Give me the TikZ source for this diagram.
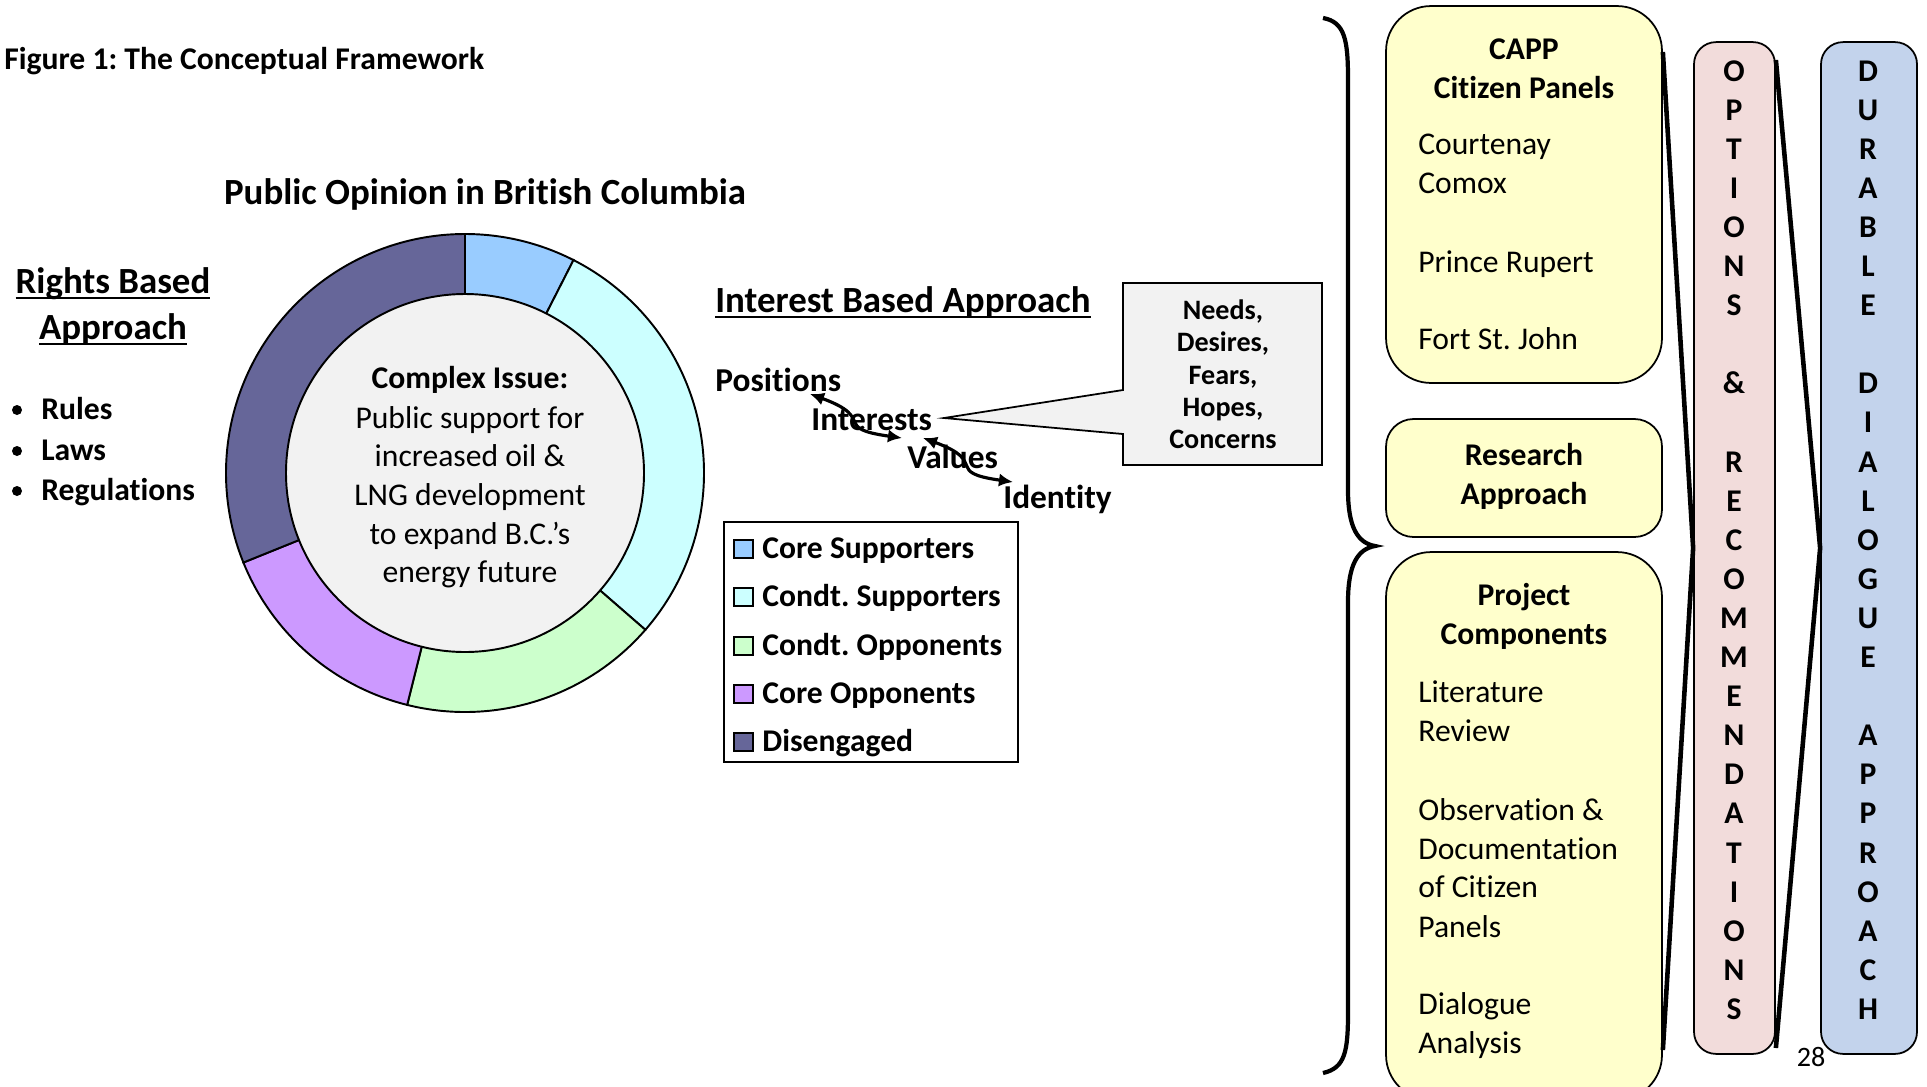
\documentclass[tikz,border=0pt]{standalone}
\usepackage{fontspec}
\setmainfont{Carlito}[Ligatures=NoCommon]
\usetikzlibrary{arrows.meta}
\definecolor{coresup}{HTML}{99CCFF}
\definecolor{condsup}{HTML}{CCFFFF}
\definecolor{condopp}{HTML}{CCFFCC}
\definecolor{coreopp}{HTML}{CC99FF}
\definecolor{diseng}{HTML}{666699}
\definecolor{innergray}{HTML}{F2F2F2}
\definecolor{boxyellow}{HTML}{FFFFCC}
\definecolor{optpink}{HTML}{F2DCDB}
\definecolor{dlgblue}{HTML}{C3D3EC}
\newcommand\ulined[1]{\setbox0\hbox{#1}\rlap{\rule[-3.6pt]{\wd0}{1.2pt}}\box0}
\frenchspacing
\tikzset{
  txt/.style={inner sep=0pt, font=\fontsize{18}{22}\selectfont},
  bld/.style={inner sep=0pt, font=\fontsize{18}{22}\selectfont\bfseries},
  head/.style={inner sep=0pt, font=\fontsize{21}{25}\selectfont\bfseries},
  term/.style={inner sep=0pt, font=\fontsize{19}{23}\selectfont\bfseries},
  small/.style={inner sep=0pt, font=\fontsize{16}{19}\selectfont\bfseries},
  ybox/.style={draw, line width=1pt, fill=boxyellow, rounded corners=0.9cm, minimum width=5.52cm},
  col/.style={draw, line width=1pt, rounded corners=0.44cm, minimum height=20.24cm},
  link/.style={line width=2.6pt},
  dbl/.style={{Latex[length=8pt,width=7.5pt]}-{Latex[length=8pt,width=7.5pt]}, line width=1.8pt},
}
\begin{document}
\begin{tikzpicture}[x=0.02cm, y=-0.02cm]
\useasboundingbox (0,0) rectangle (1927,1086);
\clip (0,0) rectangle (1927,1086);

\node[bld, anchor=base west] (title) at (4,69) {Figure 1: The Conceptual Framework};
\node[head, anchor=base] (potitle) at (485,204) {Public Opinion in British Columbia};

\node[head, anchor=base] (rights) at (113,293) {\ulined{Rights Based}};
\node[head, anchor=base] (rightsb) at (113,339) {\ulined{Approach}};
\foreach \n/\t/\y in {rules/Rules/419, laws/Laws/460, regs/Regulations/500} {
  \node[bld, anchor=base west] (\n) at (41,\y) {\t};
  \fill (17,\y-9) circle (5);
}

\begin{scope}[shift={(465,473)}, yscale=-1]
\foreach \a/\b/\c in {63/90/coresup, -41/63/condsup, -104/-41/condopp, -158/-104/coreopp, 90/202/diseng}
  \filldraw[fill=\c, line width=1.1pt] (\a:179) -- (\a:239) arc[start angle=\a, end angle=\b, radius=239] -- (\b:179) -- cycle;
\filldraw[fill=innergray, line width=1.1pt] (0,0) circle (179);
\end{scope}
\node[bld, anchor=base] (issue) at (470,388) {Complex Issue:};
\foreach \n/\t/\y in {l1/Public support for/428, l2/increased oil \&/466, l3/LNG development/505, l4/to expand B.C.’s/544, l5/energy future/582}
  \node[txt, anchor=base] (\n) at (470,\y) {\t};

\node[head, anchor=base west] (iba) at (715,312) {\ulined{Interest Based Approach}};
\node[term, anchor=base west] (positions) at (715,391) {Positions};
\node[term, anchor=base west] (interests) at (811,430) {Interests};
\node[term, anchor=base west] (values) at (907,468) {Values};
\node[term, anchor=base west] (identity) at (1003,508) {Identity};
\coordinate (pi-a) at (810,394);
\coordinate (pi-b) at (902,438);
\coordinate (vi-a) at (923,438);
\coordinate (vi-b) at (1013,482);
\draw[dbl] (pi-a) to[out=-20, in=172, looseness=1.8] (pi-b);
\draw[dbl] (vi-a) to[out=-20, in=172, looseness=1.8] (vi-b);

\filldraw[fill=innergray, line width=1pt] (1123,283) -- (1322,283) -- (1322,465) -- (1123,465) -- (1123,434) -- (944,418) -- (1123,390) -- cycle;
\foreach \n/\t/\y in {needs/{Needs,}/319, desires/{Desires,}/351, fears/{Fears,}/384, hopes/{Hopes,}/416, concerns/Concerns/448}
  \node[small, anchor=base] (\n) at (1223,\y) {\t};

\node[draw, line width=1pt, minimum width=5.88cm, minimum height=4.8cm] (legend) at (871,642) {};
\foreach \c/\t/\y in {coresup/Core Supporters/548, condsup/Condt. Supporters/596, condopp/Condt. Opponents/645, coreopp/Core Opponents/693, diseng/Disengaged/741} {
  \filldraw[fill=\c, line width=1pt] (734,\y-8) rectangle (753,\y+10);
  \node[bld, anchor=base west] (lg-\c) at (762,\y+10) {\t};
}

\draw[line width=2.4pt] (1323,18) .. controls (1345,22) and (1348,40) .. (1348,80) -- (1348,490) .. controls (1348,528) and (1358,543) .. (1375,546) .. controls (1358,549) and (1348,564) .. (1348,602) -- (1348,1012) .. controls (1348,1052) and (1345,1068) .. (1323,1073);

\node[ybox, minimum height=7.54cm] (capp) at (1524,194.5) {};
\node[ybox, minimum height=2.36cm, rounded corners=0.55cm] (research) at (1524,478) {};
\node[ybox, minimum height=10.96cm] (project) at (1524,826) {};
\node[bld, anchor=base] (capp-t) at (1524,59) {CAPP};
\node[bld, anchor=base] (capp-s) at (1524,98) {Citizen Panels};
\foreach \n/\t/\y in {court/Courtenay/154, comox/Comox/193, rupert/Prince Rupert/272, fsj/Fort St. John/349}
  \node[txt, anchor=base west] (\n) at (1418,\y) {\t};
\node[bld, anchor=base] (research-t) at (1524,465) {Research};
\node[bld, anchor=base] (research-s) at (1524,504) {Approach};
\node[bld, anchor=base] (project-t) at (1524,605) {Project};
\node[bld, anchor=base] (project-s) at (1524,644) {Components};
\foreach \n/\t/\y in {lit/Literature/702, rev/Review/741, obs/Observation \&/820, doc/Documentation/859, ofc/of Citizen/897, pan/Panels/937, dia/Dialogue/1014, ana/Analysis/1053}
  \node[txt, anchor=base west] (\n) at (1418,\y) {\t};

\node[col, fill=optpink, minimum width=1.62cm] (options) at (1734.5,548) {};
\node[col, fill=dlgblue, minimum width=1.92cm] (durable) at (1869,548) {};
\foreach \l [count=\k from 0] in {O,P,T,I,O,N,S,{},\&,{},R,E,C,O,M,M,E,N,D,A,T,I,O,N,S}
  \node[bld, anchor=base] (opt-\k) at (1734,81+39.1*\k) {\l};
\foreach \l [count=\k from 0] in {D,U,R,A,B,L,E,{},D,I,A,L,O,G,U,E,{},A,P,P,R,O,A,C,H}
  \node[bld, anchor=base] (dur-\k) at (1868,81+39.1*\k) {\l};
\draw[link] (capp.east |- 0,52) -- (options.west) -- (project.east |- 0,1050);
\draw[link] (options.east |- 0,60) -- (durable.west) -- (options.east |- 0,1048);
\node[inner sep=0pt, font=\fontsize{16}{19}\selectfont, anchor=base] (pagenum) at (1811,1066) {28};
\end{tikzpicture}
\end{document}
